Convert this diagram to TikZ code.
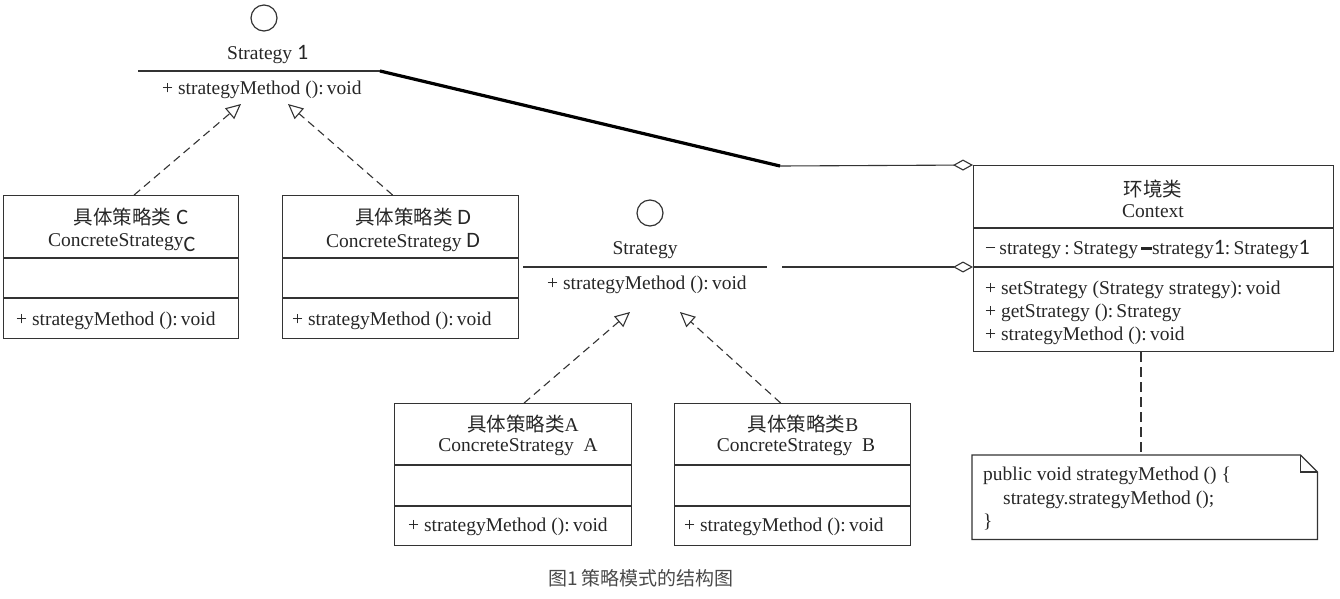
\documentclass[tikz,border=0pt]{standalone}
\usepackage{fontspec}
\setmainfont{Liberation Serif}
\newfontfamily\cjk{Noto Sans CJK SC}
\newfontfamily\ovf{Carlito}
\newcommand{\ov}{\ovf\fontsize{22}{22}\selectfont}
\usetikzlibrary{arrows.meta}
\definecolor{ln}{HTML}{333333}
\definecolor{cap}{HTML}{4A4A4A}
\begin{document}
\begin{tikzpicture}[x=1pt,y=-1pt,
  txt/.style={inner sep=0pt, font=\fontsize{19.5}{22}\selectfont, text=black!85},
  ltxt/.style={txt, anchor=west, yshift=-2.5pt},
  cls/.style={draw=ln, line width=1.2pt, inner sep=0pt, anchor=north west},
  sep/.style={draw=ln, line width=1.2pt},
  iface/.style={draw=ln, line width=1.2pt, circle, inner sep=0pt, minimum size=26pt},
  real/.style={draw=ln, line width=1.1pt, dash pattern=on 8pt off 5pt,
     -{Triangle[open, length=15pt, width=14pt, line width=1.1pt]}},
  agg/.style={draw=ln, line width=1.1pt, -{Diamond[open, length=20pt, width=11pt, line width=1.1pt]}},
  thick link/.style={draw=black, line width=3.2pt},
  note link/.style={draw=ln, line width=1.1pt, dash pattern=on 10pt off 5pt}
]
\useasboundingbox (0,0) rectangle (1340,598);

% ---------- top interface Strategy 1
\node[iface] (i1) at (264,18) {};
\node[ltxt, yshift=2.5pt] (i1n) at (227,55) {Strategy {\ov 1}};
\coordinate (i1l) at (138,71);
\coordinate (i1r) at (380,71);
\draw[sep] (i1l) -- (i1r);
\node[ltxt] (i1m) at (162,87) {+ strategyMethod ():\,void};
\coordinate (t1a) at (241,104);
\coordinate (t1b) at (288,104);

% ---------- box C
\node[cls, minimum width=235pt, minimum height=143pt] (bC) at (3,195) {};
\draw[sep] (bC.west |- 0,258) -- (bC.east |- 0,258);
\draw[sep] (bC.west |- 0,298) -- (bC.east |- 0,298);
\node[txt] (bC1) at (131,217) {{\cjk 具体策略类} {\ov C}};
\node[ltxt] (bC2) at (48,240) {ConcreteStrategy\raisebox{-5pt}{\ov C}};
\node[ltxt] (bC3) at (16,318) {+ strategyMethod ():\,void};

% ---------- box D
\node[cls, minimum width=236pt, minimum height=143pt] (bD) at (282,195) {};
\draw[sep] (bD.west |- 0,258) -- (bD.east |- 0,258);
\draw[sep] (bD.west |- 0,298) -- (bD.east |- 0,298);
\node[txt] (bD1) at (413,217) {{\cjk 具体策略类} {\ov D}};
\node[ltxt] (bD2) at (326,240) {ConcreteStrategy {\ov D}};
\node[ltxt] (bD3) at (292,318) {+ strategyMethod ():\,void};

\draw[real] ([xshift=13pt]bC.north) -- (t1a);
\draw[real] ([xshift=-8pt]bD.north) -- (t1b);

% ---------- middle interface Strategy
\node[iface] (i2) at (650,213) {};
\node[txt] (i2n) at (645,250) {Strategy};
\coordinate (i2l) at (523,267);
\coordinate (i2r) at (767,267);
\draw[sep] (i2l) -- (i2r);
\node[ltxt] (i2m) at (547,282) {+ strategyMethod ():\,void};
\coordinate (t2a) at (630,312);
\coordinate (t2b) at (680,312);

% ---------- box A
\node[cls, minimum width=237pt, minimum height=142pt] (bA) at (394,403) {};
\draw[sep] (bA.west |- 0,465) -- (bA.east |- 0,465);
\draw[sep] (bA.west |- 0,506) -- (bA.east |- 0,506);
\node[txt] (bA1) at (523,424) {{\cjk 具体策略类}A};
\node[txt] (bA2) at (518,447) {ConcreteStrategy\ \ A};
\node[ltxt] (bA3) at (408,524) {+ strategyMethod ():\,void};

% ---------- box B
\node[cls, minimum width=236pt, minimum height=142pt] (bB) at (674,403) {};
\draw[sep] (bB.west |- 0,465) -- (bB.east |- 0,465);
\draw[sep] (bB.west |- 0,506) -- (bB.east |- 0,506);
\node[txt] (bB1) at (803,424) {{\cjk 具体策略类}B};
\node[txt] (bB2) at (796,447) {ConcreteStrategy\ \ B};
\node[ltxt] (bB3) at (684,524) {+ strategyMethod ():\,void};

\draw[real] ([xshift=11pt]bA.north) -- (t2a);
\draw[real] ([xshift=-12pt]bB.north) -- (t2b);

% ---------- Context
\node[cls, minimum width=360pt, minimum height=186pt] (ctx) at (973,165) {};
\draw[sep] (ctx.west |- 0,228) -- (ctx.east |- 0,228);
\draw[sep] (ctx.west |- 0,267) -- (ctx.east |- 0,267);
\node[txt] (ctx1) at (1153,189) {\cjk 环境类};
\node[txt] (ctx2) at (1153,211) {Context};
\node[ltxt] (ctx3) at (985,247) {−\,strategy\,:\,Strategy\,\rule[0.25em]{0.55em}{3pt}strategy{\ov 1}:\,Strategy{\ov 1}};
\node[ltxt] (ctx4) at (985,287) {+ setStrategy (Strategy strategy):\,void};
\node[ltxt] (ctx5) at (985,310) {+ getStrategy ():\,Strategy};
\node[ltxt] (ctx6) at (985,333) {+ strategyMethod ():\,void};

% ---------- associations
\coordinate (bend) at (780,166);
\draw[thick link] (i1r) -- (bend);
\draw[agg] (bend) -- (ctx.north west);
\coordinate (i2e) at (782,267);
\draw[agg] (i2e) -- (ctx.west |- 0,267);

% ---------- note
\node[inner sep=0pt, minimum width=345pt, minimum height=84pt, anchor=north west] (note) at (972,455) {};
\draw[sep] (note.north west) -- ([xshift=-17pt]note.north east) -- ([yshift=-17pt]note.north east)
   -- (note.south east) -- (note.south west) -- cycle;
\draw[sep] ([xshift=-17pt]note.north east) -- ([xshift=-17pt,yshift=-17pt]note.north east) -- ([yshift=-17pt]note.north east);
\node[ltxt] (n1) at (983,473) {public void strategyMethod () \{};
\node[ltxt] (n2) at (1003,497) {strategy.strategyMethod ();};
\node[ltxt] (n3) at (983,520) {\}};
\draw[note link] (ctx.south -| 1141,0) -- (note.north -| 1141,0);

% ---------- caption
\node[inner sep=0pt, text=cap, font=\cjk\fontsize{19}{22}\selectfont] (capt) at (641,578) {图1 策略模式的结构图};
\end{tikzpicture}
\end{document}
